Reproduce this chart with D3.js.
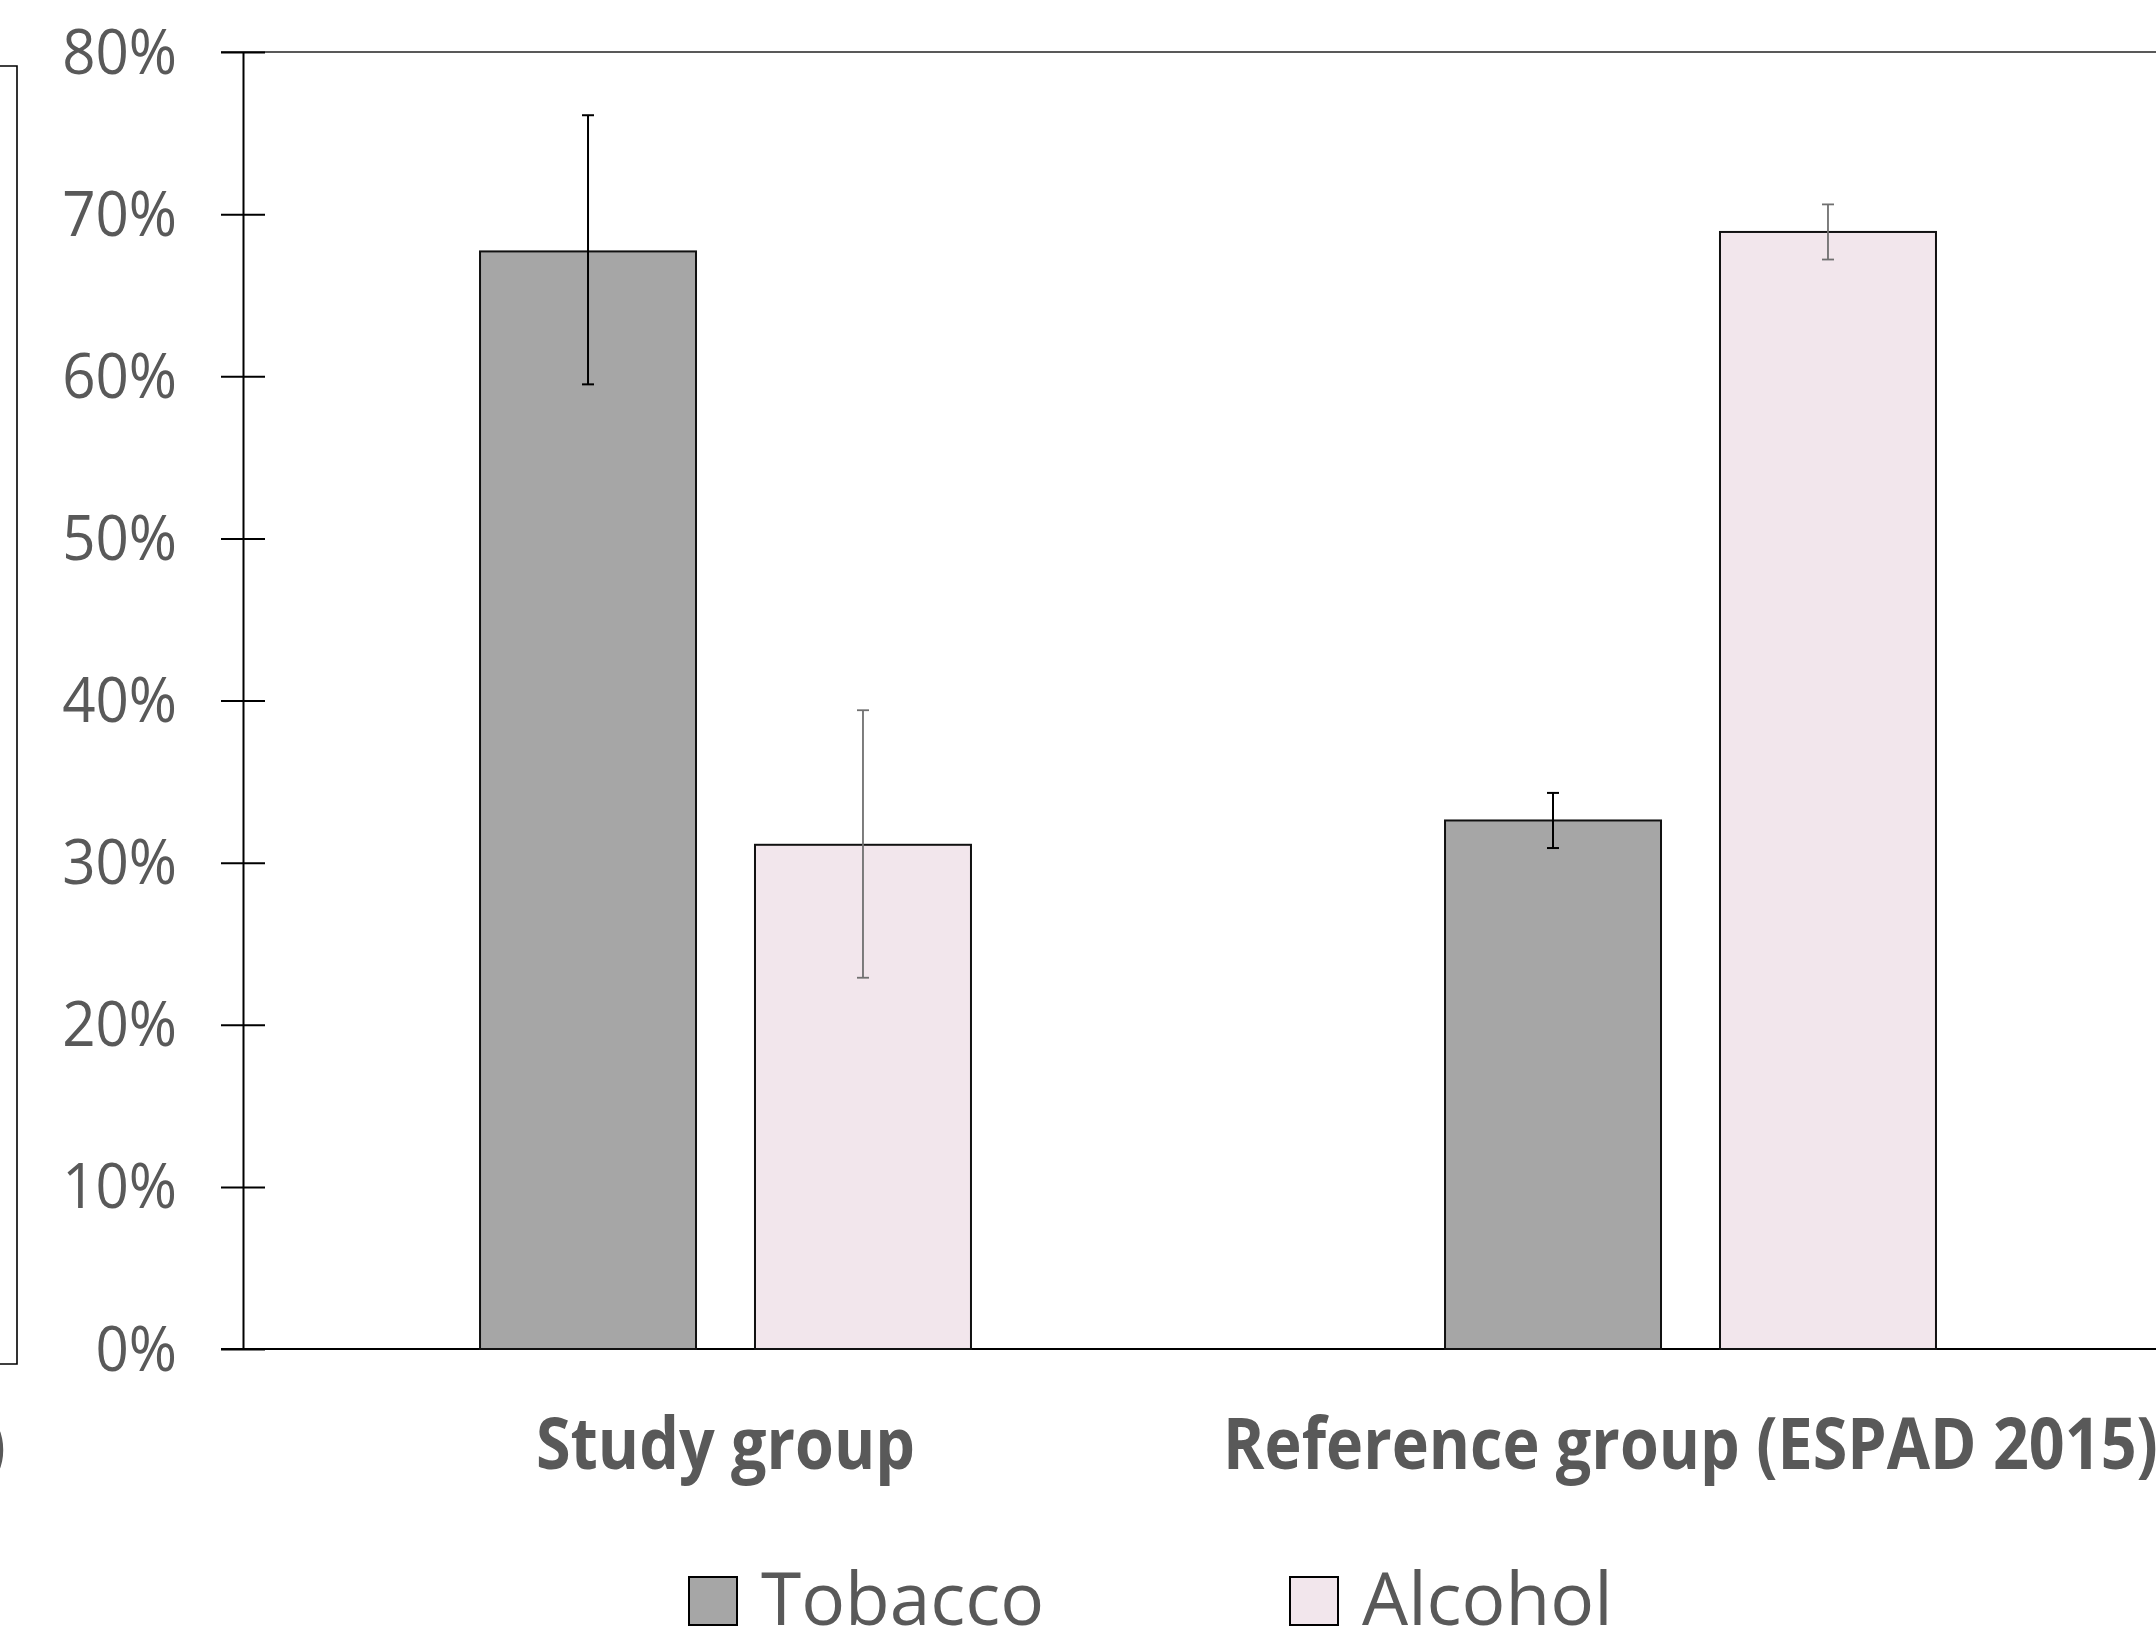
<!DOCTYPE html>
<html>
<head>
<meta charset="utf-8">
<script src="https://cdn.jsdelivr.net/npm/d3@7"></script>
<style>
  body { margin: 0; background: #fff; }
  svg { display: block; }
</style>
</head>
<body>
<div id="graph"></div>
<script>
let width = 2156;
let height = 1637;

// data
let groups = ["Study group", "Reference group (ESPAD 2015)"];
let series = ["Tobacco", "Alcohol"];
let tobacco = [0.677, 0.326];
let tobaccoLow = [0.595, 0.309];
let tobaccoHigh = [0.761, 0.343];
let alcohol = [0.311, 0.689];
let alcoholLow = [0.229, 0.672];
let alcoholHigh = [0.394, 0.706];
let yTicks = [0, 0.1, 0.2, 0.3, 0.4, 0.5, 0.6, 0.7, 0.8];

let fills = { Tobacco: "#A6A6A6", Alcohol: "#F2E6EC" };
let errColor = { Tobacco: "#000000", Alcohol: "#707070" };
let textColor = "#595959";

let rows = [];
groups.forEach((g, i) => {
  rows.push({ group: g, key: "Tobacco", value: tobacco[i], lo: tobaccoLow[i], hi: tobaccoHigh[i] });
  rows.push({ group: g, key: "Alcohol", value: alcohol[i], lo: alcoholLow[i], hi: alcoholHigh[i] });
});

let svg = d3.select("#graph")
  .append("svg")
  .attr("width", width)
  .attr("height", height);

let y = d3.scaleLinear()
  .domain([0, 0.8])
  .range([1349, 52]);

let x0 = d3.scaleBand()
  .domain(groups)
  .range([243, 2173]);

let x1 = d3.scaleBand()
  .domain(series)
  .range([0, x0.bandwidth()])
  .paddingInner(0.2145)
  .paddingOuter(0.862);

// bit of the neighbouring panel cut at the left edge
svg.append("path")
  .attr("d", "M0,66 H17 V1364 H0")
  .attr("fill", "none")
  .attr("stroke", "#000")
  .attr("stroke-width", 1.6);

svg.append("text")
  .attr("x", 6)
  .attr("y", 1470)
  .attr("text-anchor", "end")
  .attr("font-family", "Open Sans")
  .attr("font-weight", 700)
  .attr("font-size", 71)
  .attr("fill", textColor)
  .text(")");

// top frame line
svg.append("line")
  .attr("x1", 221)
  .attr("x2", width)
  .attr("y1", y(0.8))
  .attr("y2", y(0.8))
  .attr("stroke", "#222")
  .attr("stroke-width", 1.6);

// baseline
svg.append("line")
  .attr("x1", 221)
  .attr("x2", width)
  .attr("y1", y(0))
  .attr("y2", y(0))
  .attr("stroke", "#000")
  .attr("stroke-width", 2);

let yAxis = svg.append("g")
  .attr("transform", "translate(243,0)")
  .call(d3.axisLeft(y)
    .tickValues(yTicks)
    .tickFormat(d3.format(".0%"))
    .tickSizeInner(22)
    .tickSizeOuter(0)
    .tickPadding(44));

yAxis.select(".domain")
  .attr("stroke", "#000")
  .attr("stroke-width", 2);

yAxis.selectAll(".tick line")
  .attr("x1", -22)
  .attr("x2", 22)
  .attr("stroke", "#000")
  .attr("stroke-width", 2);

yAxis.selectAll(".tick text")
  .attr("font-family", "Open Sans")
  .attr("font-size", 62)
  .attr("fill", textColor)
  .attr("dy", "0.34em")
  .each(function() {
    let w = this.getComputedTextLength();
    d3.select(this).attr("textLength", w * 0.94).attr("lengthAdjust", "spacingAndGlyphs");
  });

let bars = svg.append("g")
  .selectAll("rect")
  .data(rows)
  .enter()
  .append("rect")
  .attr("x", d => x0(d.group) + x1(d.key))
  .attr("y", d => y(d.value))
  .attr("width", x1.bandwidth())
  .attr("height", d => y(0) - y(d.value))
  .attr("fill", d => fills[d.key])
  .attr("stroke", "#111")
  .attr("stroke-width", 2);

let errs = svg.append("g")
  .selectAll("g")
  .data(rows)
  .enter()
  .append("g")
  .attr("stroke", d => errColor[d.key])
  .attr("stroke-width", d => d.key == "Tobacco" ? 2 : 1.8);

let cx = d => x0(d.group) + x1(d.key) + x1.bandwidth() / 2;

errs.append("line")
  .attr("x1", cx).attr("x2", cx)
  .attr("y1", d => y(d.hi)).attr("y2", d => y(d.lo));
errs.append("line")
  .attr("x1", d => cx(d) - 6).attr("x2", d => cx(d) + 6)
  .attr("y1", d => y(d.hi)).attr("y2", d => y(d.hi));
errs.append("line")
  .attr("x1", d => cx(d) - 6).attr("x2", d => cx(d) + 6)
  .attr("y1", d => y(d.lo)).attr("y2", d => y(d.lo));

svg.append("g")
  .selectAll("text")
  .data(groups)
  .enter()
  .append("text")
  .attr("x", d => x0(d) + x0.bandwidth() / 2)
  .attr("y", 1469)
  .attr("text-anchor", "middle")
  .attr("font-family", "Open Sans")
  .attr("font-weight", 700)
  .attr("font-size", 71)
  .attr("fill", textColor)
  .text(d => d)
  .each(function() {
    let w = this.getComputedTextLength();
    d3.select(this).attr("textLength", w * 0.885).attr("lengthAdjust", "spacingAndGlyphs");
  });

// legend
let legend = svg.append("g")
  .selectAll("g")
  .data(series)
  .enter()
  .append("g")
  .attr("transform", (d, i) => "translate(" + (689 + i * 601) + ",1577)");

legend.append("rect")
  .attr("width", 48)
  .attr("height", 48)
  .attr("fill", d => fills[d])
  .attr("stroke", "#000")
  .attr("stroke-width", 2);

legend.append("text")
  .attr("x", 72)
  .attr("y", 48)
  .attr("font-family", "Open Sans")
  .attr("font-size", 73)
  .attr("fill", textColor)
  .text(d => d);
</script>
</body>
</html>
